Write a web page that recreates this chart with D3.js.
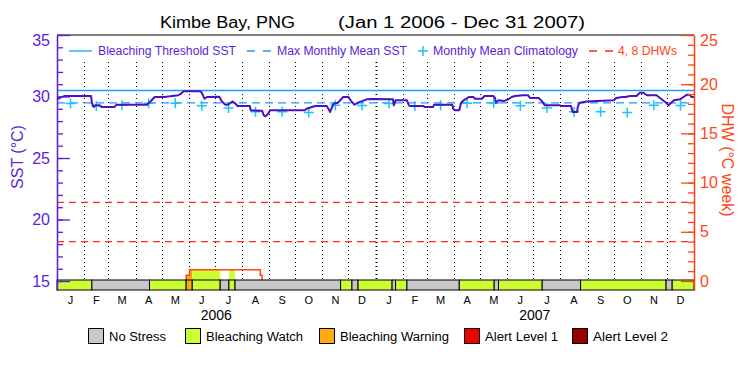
<!DOCTYPE html>
<html>
<head>
<meta charset="utf-8">
<script src="https://cdn.jsdelivr.net/npm/d3@7"></script>
<style>
  body { margin: 0; background: #fff; }
  svg { display: block; font-family: "Liberation Sans", Arial, sans-serif; }
</style>
</head>
<body>
<svg id="chart" width="750" height="375"></svg>
<script>
// all "days" are counted from 1 Jan 2006
const sstDays = [0, 5, 9, 39, 40, 42, 44, 49, 51, 66, 68, 103, 107, 112, 124, 130, 139, 143, 145, 164,
  166, 169, 172, 186, 189, 193, 196, 201, 204, 207, 221, 222, 235, 237, 239, 242, 244, 284, 286, 292,
  296, 309, 311, 313, 315, 317, 322, 328, 334, 338, 341, 345, 349, 355, 360, 385, 386, 388, 401, 403,
  404, 420, 421, 431, 432, 453, 454, 456, 461, 463, 466, 472, 477, 479, 487, 490, 500, 502, 503, 506,
  512, 517, 521, 525, 534, 540, 542, 552, 556, 559, 576, 578, 589, 591, 596, 597, 599, 607, 638, 641,
  648, 651, 657, 664, 668, 672, 676, 687, 691, 697, 701, 704, 707, 714, 718, 722, 725, 727, 730];
const sstValues = [29.77, 29.95, 30.05, 30.05, 29.5, 29.15, 29.28, 29.28, 29.15, 29.15, 29.33, 29.33, 29.6, 29.96, 29.96, 30.03, 30.1, 30.28, 30.42, 30.42,
  30.3, 29.82, 29.96, 29.98, 29.6, 29.33, 29.33, 29.6, 29.45, 29.23, 29.23, 28.88, 28.85, 28.47, 28.39, 28.6, 28.88, 28.88, 29.0, 29.15,
  29.23, 29.23, 29.0, 28.74, 29.1, 29.41, 29.5, 29.96, 29.96, 29.55, 29.33, 29.5, 29.6, 29.77, 29.8, 29.77, 29.28, 29.69, 29.69, 29.33,
  29.23, 29.23, 29.15, 29.15, 29.33, 29.33, 29.0, 28.88, 28.88, 29.47, 29.69, 29.96, 29.96, 29.82, 29.82, 30.04, 30.04, 29.88, 29.5, 29.69,
  29.63, 29.77, 29.96, 30.04, 30.1, 30.1, 29.88, 29.88, 29.6, 29.28, 29.28, 29.23, 29.23, 28.74, 28.74, 29.23, 29.5, 29.6, 29.69, 29.88,
  29.96, 29.96, 30.04, 30.04, 30.31, 30.31, 30.1, 30.1, 29.88, 29.55, 29.28, 29.5, 29.69, 29.77, 29.96, 30.15, 30.15, 29.96, 29.96];

// monthly mean climatology, Jan..Dec
const climatology = [29.43, 29.22, 29.28, 29.45, 29.45, 29.25, 29.07, 28.76, 28.76, 28.69, 29.29, 29.27];
const maxMonthlyMean = 29.48;
const bleachingThreshold = 30.48;

const dhwDays = [0, 148, 152, 233, 235, 730];
const dhwValues = [0, 0.58, 1.15, 0.58, 0, 0];
const dhwLevels = [4, 8];

const stressDays = [0, 40, 106, 148, 155, 187, 197, 204, 325, 338, 345, 384, 388, 401, 461, 501, 506, 556, 600, 698, 705];
const stressLevels = [1, 0, 1, 2, 1, 0, 1, 0, 1, 0, 1, 0, 1, 0, 1, 0, 1, 0, 1, 0, 1];
const stressNames = ["No Stress", "Bleaching Watch", "Bleaching Warning", "Alert Level 1", "Alert Level 2"];
const stressColors = ["#c8c8c8", "#ccff33", "#ffaa10", "#ee0000", "#990000"];

const sstTicks = [15, 20, 25, 30, 35];
const dhwTicks = [0, 5, 10, 15, 20, 25];

const purple = "#5a1ed8";
const sstColor = "#4c10c0";
const orange = "#ff4516";
const dhwRed = "#ff2a1e";
const blue = "#1a9cff";
const cyan = "#1cc4ff";

const plotLeft = 57, plotRight = 694, plotTop = 35, plotBottom = 290, barTop = 280;
const start = new Date(Date.UTC(2006, 0, 1));
const end = new Date(Date.UTC(2008, 0, 1));
const day = (d) => d3.utcDay.offset(start, d);

const x = d3.scaleUtc().domain([start, end]).range([plotLeft, plotRight]);
const ySst = d3.scaleLinear().domain([14.27, 35]).range([plotBottom, plotTop]);
const yDhw = d3.scaleLinear().domain([-0.915, 25]).range([plotBottom, plotTop]);

const svg = d3.select("#chart");

//title
svg.append("text").attr("x", 160).attr("y", 28).attr("font-size", 16)
  .attr("textLength", 135).attr("lengthAdjust", "spacingAndGlyphs").text("Kimbe Bay, PNG");
svg.append("text").attr("x", 338).attr("y", 28).attr("font-size", 16)
  .attr("textLength", 247).attr("lengthAdjust", "spacingAndGlyphs").text("(Jan 1 2006 - Dec 31 2007)");

//month grid
const monthStarts = d3.utcMonth.range(d3.utcMonth.offset(start, 1), end);
svg.append("g").selectAll("line").data(monthStarts).enter().append("line")
  .attr("x1", (d) => Math.round(x(d)) + 0.5).attr("x2", (d) => Math.round(x(d)) + 0.5)
  .attr("y1", 62).attr("y2", barTop)
  .attr("stroke", "#000")
  .attr("stroke-width", (d) => (d.getUTCMonth() === 0 ? 2 : 1))
  .attr("stroke-dasharray", "1,3");

//DHW 4 and 8 lines
svg.append("g").selectAll("line").data(dhwLevels).enter().append("line")
  .attr("x1", plotLeft).attr("x2", plotRight)
  .attr("y1", (d) => yDhw(d)).attr("y2", (d) => yDhw(d))
  .attr("stroke", dhwRed).attr("stroke-width", 1.3).attr("stroke-dasharray", "7,5");

//threshold and MMM
svg.append("line").attr("x1", plotLeft).attr("x2", plotRight)
  .attr("y1", ySst(bleachingThreshold)).attr("y2", ySst(bleachingThreshold))
  .attr("stroke", blue).attr("stroke-width", 1.5);
svg.append("line").attr("x1", plotLeft).attr("x2", plotRight)
  .attr("y1", ySst(maxMonthlyMean)).attr("y2", ySst(maxMonthlyMean))
  .attr("stroke", blue).attr("stroke-width", 1.3).attr("stroke-dasharray", "8,5");

//DHW fill coloured by stress level, then DHW line
const dhwPts = dhwDays.map((d, i) => ({ date: day(d), v: dhwValues[i] }));
const dhwArea = d3.area().curve(d3.curveStepAfter)
  .x((d) => x(d.date)).y0(yDhw(0)).y1((d) => yDhw(d.v));
const segments = stressDays.map((d, i) => ({
  from: day(d),
  to: i < stressDays.length - 1 ? day(stressDays[i + 1]) : end,
  level: stressLevels[i]
}));
const defs = svg.append("defs");
segments.forEach((s, i) => {
  if (s.level === 0) return;
  defs.append("clipPath").attr("id", "seg" + i).append("rect")
    .attr("x", x(s.from)).attr("width", x(s.to) - x(s.from))
    .attr("y", plotTop).attr("height", plotBottom - plotTop);
  svg.append("path").datum(dhwPts).attr("d", dhwArea)
    .attr("clip-path", `url(#seg${i})`).attr("fill", stressColors[s.level]);
});
svg.append("path").datum(dhwPts)
  .attr("d", d3.line().curve(d3.curveStepAfter).x((d) => x(d.date)).y((d) => yDhw(d.v)))
  .attr("fill", "none").attr("stroke", orange).attr("stroke-width", 1.5);

//climatology crosses
const climPts = [];
[0, 1].forEach((yr) => {
  climatology.forEach((v, m) => {
    const a = new Date(Date.UTC(2006 + yr, m, 1));
    const b = new Date(Date.UTC(2006 + yr, m + 1, 1));
    climPts.push({ date: new Date((+a + +b) / 2), v: v });
  });
});
svg.append("g").selectAll("path").data(climPts).enter().append("path")
  .attr("transform", (d) => `translate(${x(d.date)},${ySst(d.v)})`)
  .attr("d", "M-5,0H5M0,-5V5")
  .attr("stroke", cyan).attr("stroke-width", 1.5);

//SST line
const sstPts = sstDays.map((d, i) => ({ date: day(d), v: sstValues[i] }));
svg.append("path").datum(sstPts)
  .attr("d", d3.line().x((d) => x(d.date)).y((d) => ySst(d.v)))
  .attr("fill", "none").attr("stroke", sstColor).attr("stroke-width", 2)
  .attr("stroke-linejoin", "round");

//stress bar
svg.append("g").selectAll("rect").data(segments).enter().append("rect")
  .attr("x", (d) => x(d.from)).attr("width", (d) => x(d.to) - x(d.from))
  .attr("y", barTop).attr("height", plotBottom - barTop)
  .attr("fill", (d) => stressColors[d.level])
  .attr("stroke", "#000").attr("stroke-width", 1);

//top border
svg.append("line").attr("x1", plotLeft).attr("x2", plotRight).attr("y1", plotTop).attr("y2", plotTop)
  .attr("stroke", "#000").attr("stroke-width", 1.2);

//left axis
const styleAxis = (g, color) => {
  g.attr("font-family", "Liberation Sans, Arial, sans-serif").attr("font-size", 16);
  g.selectAll("path, line").attr("stroke", color).attr("stroke-width", 1.3);
  g.selectAll("text").attr("fill", color);
};
const gLminor = svg.append("g").attr("transform", `translate(${plotLeft},0)`)
  .call(d3.axisLeft(ySst).tickValues(d3.range(15, 36)).tickSizeInner(-6).tickSizeOuter(0).tickFormat(""));
styleAxis(gLminor, purple);
const gL = svg.append("g").attr("transform", `translate(${plotLeft},0)`)
  .call(d3.axisLeft(ySst).tickValues(sstTicks).tickSizeInner(-13).tickSizeOuter(0).tickPadding(7));
styleAxis(gL, purple);
gL.selectAll(".tick text").filter((d) => d === 35).attr("y", 5);

//right axis
const gRminor = svg.append("g").attr("transform", `translate(${plotRight},0)`)
  .call(d3.axisRight(yDhw).tickValues(d3.range(0, 26)).tickSizeInner(-6).tickSizeOuter(0).tickFormat(""));
styleAxis(gRminor, orange);
const gR = svg.append("g").attr("transform", `translate(${plotRight},0)`)
  .call(d3.axisRight(yDhw).tickValues(dhwTicks).tickSizeInner(-13).tickSizeOuter(0).tickPadding(6));
styleAxis(gR, orange);
gR.selectAll(".tick text").filter((d) => d === 25).attr("y", 5);

//axis titles
svg.append("text").attr("transform", "translate(23,157) rotate(-90)")
  .attr("text-anchor", "middle").attr("font-size", 16).attr("fill", purple).text("SST (°C)");
svg.append("text").attr("transform", "translate(722,160) rotate(90)")
  .attr("text-anchor", "middle").attr("font-size", 16).attr("fill", orange).text("DHW (°C week)");

//month and year labels
const allMonths = d3.utcMonth.range(start, end);
svg.append("g").selectAll("text").data(allMonths).enter().append("text")
  .attr("x", (d) => x(new Date((+d + +d3.utcMonth.offset(d, 1)) / 2)))
  .attr("y", 304).attr("text-anchor", "middle").attr("font-size", 11)
  .text((d) => d3.utcFormat("%b")(d)[0]);
svg.append("g").selectAll("text").data([2006, 2007]).enter().append("text")
  .attr("x", (d) => x(new Date((Date.UTC(d, 0, 1) + Date.UTC(d + 1, 0, 1)) / 2)))
  .attr("y", 320).attr("text-anchor", "middle").attr("font-size", 14)
  .text((d) => d);

//top legend
const topLegend = svg.append("g").attr("font-size", 12);
topLegend.append("line").attr("x1", 69).attr("x2", 92).attr("y1", 51).attr("y2", 51)
  .attr("stroke", blue).attr("stroke-width", 1.3);
topLegend.append("text").attr("x", 98).attr("y", 55).attr("fill", purple)
  .attr("textLength", 138).attr("lengthAdjust", "spacingAndGlyphs").text("Bleaching Threshold SST");
topLegend.append("line").attr("x1", 247).attr("x2", 271).attr("y1", 51).attr("y2", 51)
  .attr("stroke", blue).attr("stroke-width", 1.3).attr("stroke-dasharray", "8,8");
topLegend.append("text").attr("x", 277).attr("y", 55).attr("fill", purple)
  .attr("textLength", 130).attr("lengthAdjust", "spacingAndGlyphs").text("Max Monthly Mean SST");
topLegend.append("path").attr("transform", "translate(423,51)").attr("d", "M-5,0H5M0,-5V5")
  .attr("stroke", cyan).attr("stroke-width", 1.5);
topLegend.append("text").attr("x", 433).attr("y", 55).attr("fill", purple)
  .attr("textLength", 145).attr("lengthAdjust", "spacingAndGlyphs").text("Monthly Mean Climatology");
topLegend.append("line").attr("x1", 589).attr("x2", 613).attr("y1", 51).attr("y2", 51)
  .attr("stroke", dhwRed).attr("stroke-width", 1.3).attr("stroke-dasharray", "8,8");
topLegend.append("text").attr("x", 618).attr("y", 55).attr("fill", orange)
  .attr("textLength", 59).attr("lengthAdjust", "spacingAndGlyphs").text("4, 8 DHWs");

//bottom legend
const legendX = [88, 185, 319, 464, 572];
const legendW = [57, 97, 109, 73, 75];
const legendG = svg.append("g").selectAll("g").data(stressNames).enter().append("g")
  .attr("transform", (d, i) => `translate(${legendX[i]},328)`);
legendG.append("rect").attr("x", 0.5).attr("y", 0.5).attr("width", 15).attr("height", 15)
  .attr("fill", (d, i) => stressColors[i]).attr("stroke", "#000");
legendG.append("text").attr("x", 21).attr("y", 13).attr("font-size", 12)
  .attr("textLength", (d, i) => legendW[i]).attr("lengthAdjust", "spacingAndGlyphs")
  .text((d) => d);
</script>
</body>
</html>
